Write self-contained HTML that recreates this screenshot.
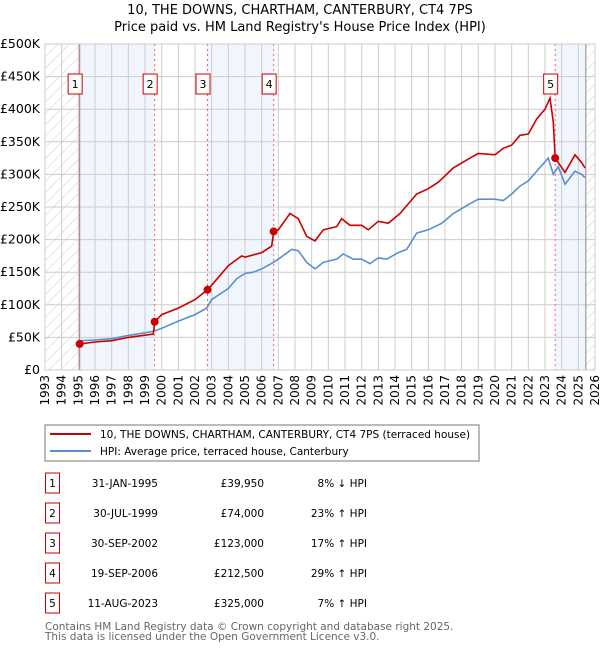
<!DOCTYPE html>
<html><head><meta charset="utf-8"><style>
body{margin:0;background:#fff;font-family:"DejaVu Sans","Liberation Sans",sans-serif;}
svg text{font-family:"DejaVu Sans","Liberation Sans",sans-serif;}
</style></head><body>
<svg id="c" width="600" height="650" xmlns="http://www.w3.org/2000/svg">
<defs><pattern id="h" width="8" height="8" patternUnits="userSpaceOnUse" patternTransform="rotate(45)"><line x1="0" y1="0" x2="0" y2="8" stroke="#ccc" stroke-width="1"/></pattern></defs>
<text x="300" y="14" text-anchor="middle" font-size="13">10, THE DOWNS, CHARTHAM, CANTERBURY, CT4 7PS</text>
<text x="300" y="31" text-anchor="middle" font-size="13">Price paid vs. HM Land Registry's House Price Index (HPI)</text>
<g id="plot"></g>
<rect x="45" y="425" width="434" height="36" fill="#fff" stroke="#777"/>
<line x1="50" y1="434" x2="91" y2="434" stroke="#cc0000" stroke-width="2"/>
<text x="100" y="438" font-size="10.5">10, THE DOWNS, CHARTHAM, CANTERBURY, CT4 7PS (terraced house)</text>
<line x1="50" y1="451" x2="91" y2="451" stroke="#5b8ed0" stroke-width="2"/>
<text x="100" y="455" font-size="10.5">HPI: Average price, terraced house, Canterbury</text>
<g id="tbl"></g>
<text x="45" y="630" font-size="10.5" fill="#666">Contains HM Land Registry data © Crown copyright and database right 2025.</text>
<text x="45" y="640" font-size="10.5" fill="#666">This data is licensed under the Open Government Licence v3.0.</text>
</svg>
<script>
const yTicks=[0,50000,100000,150000,200000,250000,300000,350000,400000,450000,500000];
const yTickLabels=["£0","£50K","£100K","£150K","£200K","£250K","£300K","£350K","£400K","£450K","£500K"];
const xYears=[1993,1994,1995,1996,1997,1998,1999,2000,2001,2002,2003,2004,2005,2006,2007,2008,2009,2010,2011,2012,2013,2014,2015,2016,2017,2018,2019,2020,2021,2022,2023,2024,2025,2026];
const hpiT=[1995.1,1996,1997,1998,1999,1999.6,2000,2001,2002,2002.7,2003,2004,2004.5,2005,2005.5,2006,2006.7,2007,2007.8,2008.2,2008.7,2009.2,2009.7,2010.5,2010.9,2011.5,2012,2012.5,2013,2013.5,2014.2,2014.7,2015.3,2016,2016.8,2017.5,2018.5,2019,2020,2020.5,2021,2021.5,2022,2022.5,2023.2,2023.5,2023.8,2024.2,2024.8,2025.2,2025.4];
const hpiV=[45,46,48,53,57,60,64,75,85,95,108,125,140,148,150,155,165,170,185,183,165,155,165,170,178,170,170,163,172,170,180,185,210,215,225,240,255,262,262,260,270,282,290,305,325,300,312,285,305,300,295];
const priceT=[1995.08,1996,1997,1998,1999.5,1999.58,2000,2001,2002,2002.75,2003,2004,2004.8,2005,2006,2006.6,2006.72,2007,2007.7,2008.2,2008.7,2009.2,2009.7,2010.5,2010.8,2011.3,2012,2012.4,2013,2013.6,2014.3,2015.3,2016,2016.6,2017.5,2018.5,2019,2020,2020.5,2021,2021.5,2022,2022.5,2023,2023.3,2023.5,2023.61,2024.2,2024.8,2025.2,2025.4];
const priceV=[40,43,45,50,55,74,85,95,108,123,130,160,175,173,180,190,212.5,215,240,232,205,198,215,220,232,222,222,215,228,225,240,270,278,288,310,325,332,330,340,345,360,362,385,400,417,380,325,303,330,318,310];
const saleT=[1995.08,1999.58,2002.75,2006.72,2023.61];
const saleV=[39950,74000,123000,212500,325000];
const saleLabels=["1","2","3","4","5"];
const saleDates=["31-JAN-1995","30-JUL-1999","30-SEP-2002","19-SEP-2006","11-AUG-2023"];
const salePrices=["£39,950","£74,000","£123,000","£212,500","£325,000"];
const saleHpi=["8% ↓ HPI","23% ↑ HPI","17% ↑ HPI","29% ↑ HPI","7% ↑ HPI"];

const X0=45,X1=595,Y0=370,Y1=44;
const x=t=>X0+(t-1993)/(2026-1993)*(X1-X0);
const y=v=>Y0-v/500000*(Y0-Y1);
const NS="http://www.w3.org/2000/svg";
const g=document.getElementById('plot');
function mk(tag,a,p){const e=document.createElementNS(NS,tag);for(const k in a)e.setAttribute(k,a[k]);(p||g).appendChild(e);return e;}
let e=mk('rect',{x:X0,y:Y1,width:x(1995.08)-X0,height:Y0-Y1,fill:'url(#h)'});


e=mk('rect',{x:x(2025.45),y:Y1,width:X1-x(2025.45),height:Y0-Y1,fill:'url(#h)'});


const bands=[[0,1],[2,3],[4,-1]];
bands.forEach((b,i)=>{const a=saleT[b[0]],z=b[1]<0?2025.45:saleT[b[1]];
e=mk('rect',{x:x(a),y:Y1,width:x(z)-x(a),height:Y0-Y1,fill:'#eef3fc',opacity:0.8});

});
yTicks.forEach((v,i)=>{e=mk('line',{x1:X0,x2:X1,y1:y(v),y2:y(v),stroke:'#ccc'});


e=mk('text',{x:40,y:y(v)+4,'text-anchor':'end','font-size':12.5});e.textContent=yTickLabels[i];

});
xYears.forEach(t=>{e=mk('line',{x1:x(t),x2:x(t),y1:Y1,y2:Y0,stroke:'#ccc'});


e=mk('text',{x:0,y:0,'font-size':12,'text-anchor':'end',transform:`translate(${x(t)+4},${Y0+5}) rotate(-90)`});e.textContent=t;

});
e=mk('line',{x1:x(1995.08),x2:x(1995.08),y1:Y1,y2:Y0,stroke:'#888'});


e=mk('line',{x1:x(2025.45),x2:x(2025.45),y1:Y1,y2:Y0,stroke:'#888'});


saleT.forEach((t,i)=>{e=mk('line',{x1:x(t),x2:x(t),y1:Y1,y2:Y0,stroke:'#f06070','stroke-dasharray':'2,3'});

});
const pts=(T,V)=>T.map((t,i)=>x(t).toFixed(1)+','+y(V[i]*1000).toFixed(1)).join(' ');
e=mk('polyline',{points:pts(hpiT,hpiV),fill:'none',stroke:'#5b8ed0','stroke-width':1.6});


e=mk('polyline',{points:pts(priceT,priceV),fill:'none',stroke:'#cc0000','stroke-width':1.6});


saleT.forEach((t,i)=>{e=mk('circle',{cx:x(t),cy:y(saleV[i]),r:4,fill:'#cc0000'});


const bx=x(t)-4.5;
const r=mk('g',{});
mk('rect',{x:bx-7,y:74,width:14,height:20,fill:'#fff',stroke:'#cc0000'},r);
const tx=mk('text',{x:bx,y:88,'text-anchor':'middle','font-size':11},r);tx.textContent=saleLabels[i];

});
mk('rect',{x:X0,y:Y1,width:X1-X0,height:Y0-Y1,fill:'none',stroke:'#ccc'});
const tb=document.getElementById('tbl');
saleLabels.forEach((l,i)=>{const cy=483+i*30;
const row=mk('g',{},tb);


mk('rect',{x:45.5,y:cy-10,width:14,height:20,fill:'#fff',stroke:'#cc0000'},row);
let t=mk('text',{x:52.5,y:cy+4,'text-anchor':'middle','font-size':10.5},row);t.textContent=l;
t=mk('text',{x:158,y:cy+4,'text-anchor':'end','font-size':10.5},row);t.textContent=saleDates[i];
t=mk('text',{x:264,y:cy+4,'text-anchor':'end','font-size':10.5},row);t.textContent=salePrices[i];
t=mk('text',{x:367,y:cy+4,'text-anchor':'end','font-size':10.5},row);t.textContent=saleHpi[i];});
</script>
</body></html>
